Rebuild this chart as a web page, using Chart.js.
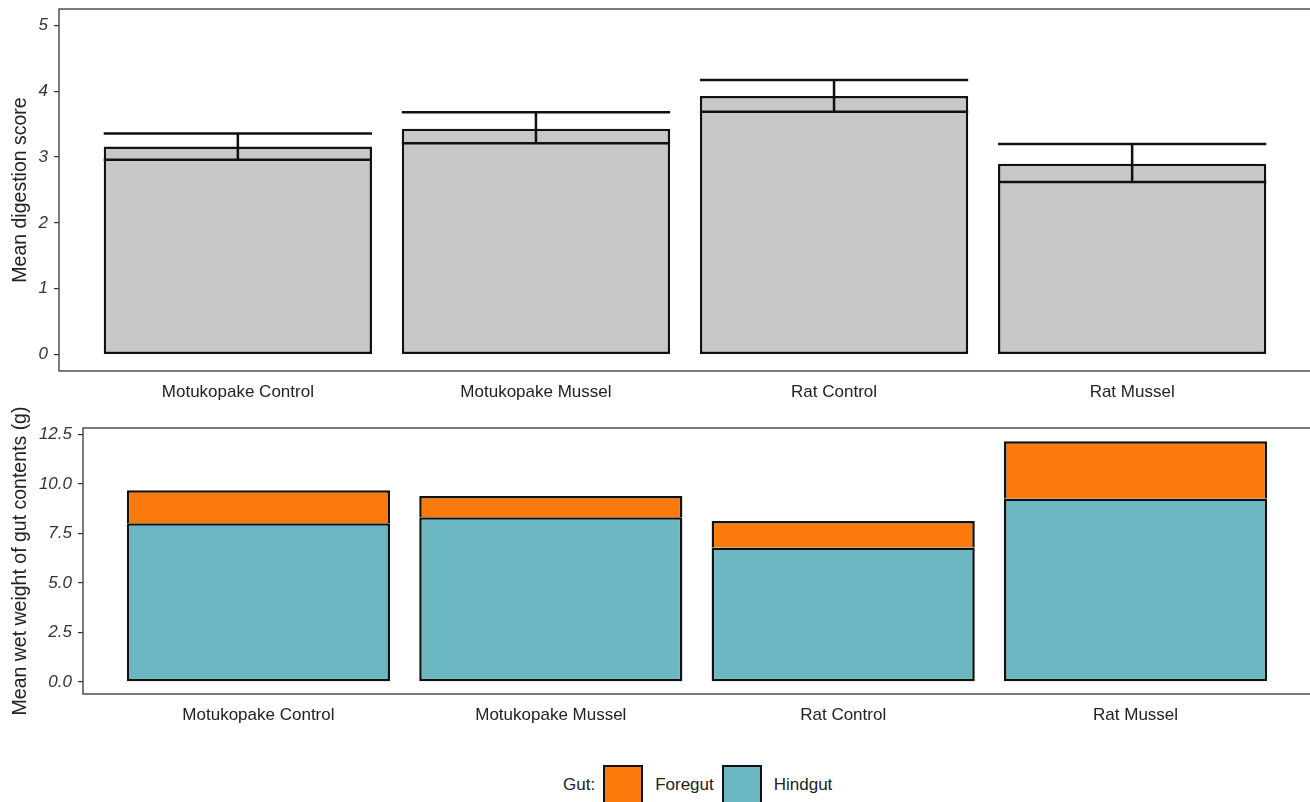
<!DOCTYPE html>
<html>
<head>
<meta charset="utf-8">
<script src="https://cdn.jsdelivr.net/npm/chart.js@4/dist/chart.umd.min.js"></script>
<style>
  body { margin: 0; width: 1310px; height: 802px; overflow: hidden; background: #fff; position: relative; font-family: "Liberation Sans", Arial, sans-serif; }
  .box { position: absolute; left: 0; width: 1312px; }
  #top { top: 0; height: 410px; }
  #bottom { top: 395px; height: 338px; }
  #legend { position: absolute; top: 765px; left: 563px; display: flex; align-items: center; font-size: 17px; color: #222; }
  #legend .key { width: 36px; height: 36px; border: 2.5px solid #111; margin: 0 12px 0 8px; }
</style>
</head>
<body>
<div class="box" id="top"><canvas id="digest"></canvas></div>
<div class="box" id="bottom"><canvas id="weight"></canvas></div>
<div id="legend"></div>
<script>
const groups = ["Motukopake Control", "Motukopake Mussel", "Rat Control", "Rat Mussel"];

// top panel: mean digestion score with error bars
const digestMean = [3.16, 3.43, 3.93, 2.90];
const digestLow = [2.96, 3.21, 3.69, 2.62];
const digestHigh = [3.36, 3.68, 4.17, 3.20];
const digestTicks = [0, 1, 2, 3, 4, 5];

// bottom panel: wet weight of gut contents (g)
const hindgut = [8.02, 8.32, 6.79, 9.27];
const foregut = [1.67, 1.08, 1.34, 2.89];
const weightTicks = [0, 2.5, 5, 7.5, 10, 12.5];

const GREY = "#c8c8c8";
const ORANGE = "#fa7b0b";
const TEAL = "#6bb8c2";
const EDGE = "#111";

const frame = {
  id: "frame",
  afterDraw(chart) {
    const { ctx, chartArea: a } = chart;
    ctx.save();
    ctx.strokeStyle = "#333";
    ctx.lineWidth = 1.3;
    ctx.strokeRect(a.left, a.top, a.right - a.left, a.bottom - a.top);
    ctx.restore();
  },
};

const errorBars = {
  id: "errorBars",
  afterDatasetsDraw(chart) {
    const { ctx, scales } = chart;
    const meta = chart.getDatasetMeta(0);
    ctx.save();
    ctx.strokeStyle = EDGE;
    ctx.lineWidth = 2.5;
    meta.data.forEach((bar, i) => {
      const x = scales.x.getPixelForValue(i);
      const half = bar.width / 2;
      const lo = scales.y.getPixelForValue(digestLow[i]);
      const hi = scales.y.getPixelForValue(digestHigh[i]);
      ctx.beginPath();
      ctx.moveTo(x - half, lo); ctx.lineTo(x + half, lo);
      ctx.moveTo(x - half, hi); ctx.lineTo(x + half, hi);
      ctx.moveTo(x, lo); ctx.lineTo(x, hi);
      ctx.stroke();
    });
    ctx.restore();
  },
};

function xAxis() {
  return {
    type: "linear",
    offset: false,
    min: -0.6,
    max: groups.length - 0.4,
    afterBuildTicks: (s) => { s.ticks = groups.map((g, i) => ({ value: i })); },
    afterFit: (s) => { s.height = 39; s.paddingLeft = 0; s.paddingRight = 0; },
    grid: { display: false, drawTicks: false },
    border: { display: false },
    ticks: {
      callback: (v) => groups[v],
      color: "#222",
      font: { family: "Liberation Sans", size: 17 },
      padding: 11,
      maxRotation: 0,
      autoSkip: false,
    },
  };
}

function yAxis(min, max, ticks, width, title, fmt) {
  return {
    min: min,
    max: max,
    afterBuildTicks: (s) => { s.ticks = ticks.map((v) => ({ value: v })); },
    afterFit: (s) => { s.width = width; s.paddingTop = 0; s.paddingBottom = 0; },
    grid: { drawOnChartArea: false, color: "#333", tickColor: "#333", tickLength: 5, lineWidth: 1.2 },
    border: { display: false },
    ticks: {
      callback: fmt,
      color: "#333",
      font: { family: "Liberation Sans", size: 17, style: "italic" },
      padding: 6,
    },
    title: {
      display: true,
      text: title,
      color: "#222",
      font: { family: "Liberation Sans", size: 19.5 },
      padding: { top: 9, bottom: 0 },
    },
  };
}

new Chart(document.getElementById("digest"), {
  type: "bar",
  data: {
    datasets: [{
      label: "Mean digestion score",
      data: digestMean.map((v, i) => ({ x: i, y: v })),
      backgroundColor: GREY,
      borderColor: EDGE,
      borderWidth: 2.5,
      borderSkipped: false,
      barPercentage: 0.9,
      categoryPercentage: 1,
    }],
  },
  options: {
    responsive: true,
    maintainAspectRatio: false,
    animation: false,
    layout: { padding: { top: 9, right: 1, left: 0, bottom: 0 } },
    plugins: { legend: { display: false }, tooltip: { enabled: false } },
    scales: {
      x: xAxis(),
      y: yAxis(-0.25, 5.25, digestTicks, 59, "Mean digestion score", (v) => String(v)),
    },
  },
  plugins: [frame, errorBars],
});

const weightChart = new Chart(document.getElementById("weight"), {
  type: "bar",
  data: {
    datasets: [
      {
        label: "Hindgut",
        data: hindgut.map((v, i) => ({ x: i, y: v })),
        backgroundColor: TEAL,
        borderColor: EDGE,
        borderWidth: 2.5,
        borderSkipped: false,
        barPercentage: 0.9,
        categoryPercentage: 1,
      },
      {
        label: "Foregut",
        data: foregut.map((v, i) => ({ x: i, y: v })),
        backgroundColor: ORANGE,
        borderColor: EDGE,
        borderWidth: 2.5,
        borderSkipped: "start",
        barPercentage: 0.9,
        categoryPercentage: 1,
      },
    ],
  },
  options: {
    responsive: true,
    maintainAspectRatio: false,
    animation: false,
    layout: { padding: { top: 33, right: 1, left: 0, bottom: 0 } },
    plugins: { legend: { display: false }, tooltip: { enabled: false } },
    scales: {
      x: Object.assign(xAxis(), { stacked: true }),
      y: Object.assign(yAxis(-0.61, 12.83, weightTicks, 83, "Mean wet weight of gut contents (g)", (v) => v.toFixed(1)), { stacked: true }),
    },
  },
  plugins: [frame],
});

// HTML legend built from the chart's own legend items, Foregut first
const legend = document.getElementById("legend");
const label = document.createElement("span");
label.textContent = "Gut:";
legend.appendChild(label);
const items = Chart.defaults.plugins.legend.labels.generateLabels(weightChart).reverse();
items.forEach((it) => {
  const key = document.createElement("span");
  key.className = "key";
  key.style.background = it.fillStyle;
  legend.appendChild(key);
  const txt = document.createElement("span");
  txt.textContent = it.text;
  legend.appendChild(txt);
});
</script>
</body>
</html>
